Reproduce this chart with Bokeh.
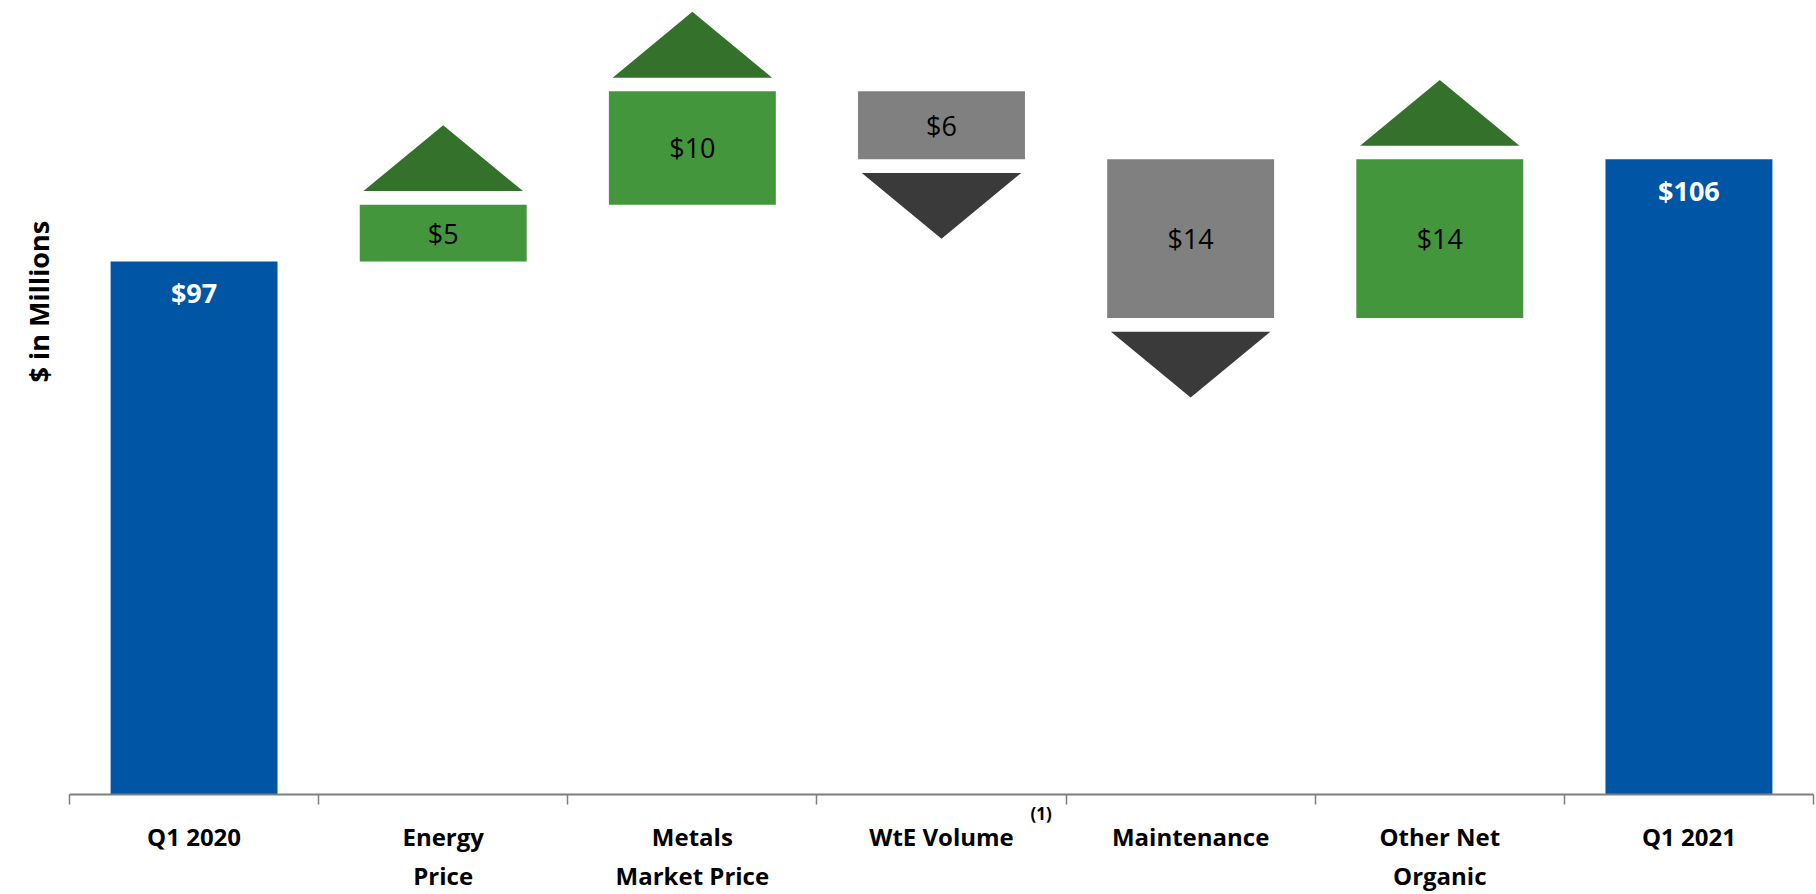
from bokeh.plotting import figure
from bokeh.models import Range1d, FixedTicker, LinearAxis, Title, ColumnDataSource
from bokeh.core.properties import value
from bokeh.embed import file_html
from bokeh.resources import INLINE

# ---- data ($ millions) ----
categories = ["Q1 2020", "Energy\nPrice", "Metals\nMarket Price", "WtE Volume",
              "Maintenance", "Other Net\nOrganic", "Q1 2021"]
start_total = 97
end_total = 106
changes = [5, 10, -6, -14, 14]
value_labels = ["$97", "$5", "$10", "$6", "$14", "$14", "$106"]
footnotes = {"WtE Volume": "(1)"}

# ---- styling ----
FONT = "Open Sans"
BLUE = "#0055A5"
UP_FILL = "#43963B"
UP_ARROW = "#34722C"
DOWN_FILL = "#808080"
DOWN_ARROW = "#3A3A3A"
AXIS_GREY = "#7F7F7F"
BAR_W = 0.67
ARROW_W = 0.64
ARROW_GAP = 1.2
ARROW_H = 5.8

n = len(categories)
centers = [i + 0.5 for i in range(n)]

# running totals for the floating bars
bottoms, tops, colors = [0.0], [start_total], [BLUE]
level = start_total
for c in changes:
    new = level + c
    bottoms.append(min(level, new))
    tops.append(max(level, new))
    colors.append(UP_FILL if c > 0 else DOWN_FILL)
    level = new
bottoms.append(0.0)
tops.append(end_total)
colors.append(BLUE)

p = figure(frame_width=1744, frame_height=794,
           x_range=Range1d(0, n), y_range=Range1d(50, 120),
           output_backend="svg", toolbar_location=None,
           x_axis_location=None, y_axis_location=None,
           min_border_left=69, min_border_right=3,
           min_border_top=0, min_border_bottom=90,
           background_fill_color="white", border_fill_color="white")
p.outline_line_color = None
p.xgrid.visible = False
p.ygrid.visible = False

src = ColumnDataSource(dict(x=centers, bottom=bottoms, top=tops, color=colors))
p.vbar(x="x", bottom="bottom", top="top", width=BAR_W, fill_color="color",
       line_color=None, source=src)

# direction arrows for the change bars
axs, ays, acol = [], [], []
level = start_total
for i, c in enumerate(changes, start=1):
    new = level + c
    x0, x1 = centers[i] - ARROW_W / 2, centers[i] + ARROW_W / 2
    if c > 0:
        base = new + ARROW_GAP
        tip = base + ARROW_H
        acol.append(UP_ARROW)
    else:
        base = new - ARROW_GAP
        tip = base - ARROW_H
        acol.append(DOWN_ARROW)
    axs.append([x0, x1, centers[i]])
    ays.append([base, base, tip])
    level = new
p.patches(axs, ays, fill_color=acol, line_color=None)

# value labels: totals near the top in white, changes centred in black
tot_idx = [0, n - 1]
p.text(x=[centers[i] for i in tot_idx], y=[tops[i] for i in tot_idx],
       text=[value_labels[i] for i in tot_idx], y_offset=31,
       text_align="center", text_baseline="middle", text_color="white",
       text_font=value(FONT), text_font_style="bold", text_font_size="27px")
chg_idx = list(range(1, n - 1))
p.text(x=[centers[i] for i in chg_idx],
       y=[(tops[i] + bottoms[i]) / 2 for i in chg_idx],
       text=[value_labels[i] for i in chg_idx],
       text_align="center", text_baseline="middle", text_color="black",
       text_font=value(FONT), text_font_size="27px")

# inner axis: baseline, boundary tick marks and footnote markers
note_pos = {centers[categories.index(k)] + 0.4: v for k, v in footnotes.items()}
note_axis = LinearAxis(
    ticker=FixedTicker(ticks=list(note_pos), minor_ticks=list(range(n + 1))),
    major_label_overrides=note_pos,
    axis_line_color=AXIS_GREY, axis_line_width=2,
    major_tick_in=0, major_tick_out=0,
    minor_tick_in=0, minor_tick_out=10,
    minor_tick_line_color=AXIS_GREY, minor_tick_line_width=1.5,
    major_label_standoff=-3,
    major_label_text_font=FONT, major_label_text_font_style="bold",
    major_label_text_font_size="17px", major_label_text_color="black",
)
p.add_layout(note_axis, "below")

# outer axis: category names centred under each bar
cat_axis = LinearAxis(
    ticker=FixedTicker(ticks=centers, minor_ticks=[]),
    major_label_overrides={c: lab for c, lab in zip(centers, categories)},
    axis_line_color=None,
    major_tick_in=0, major_tick_out=0,
    minor_tick_in=0, minor_tick_out=0,
    major_label_standoff=-8,
    major_label_text_font=FONT, major_label_text_font_style="bold",
    major_label_text_font_size="24px", major_label_text_color="black",
    major_label_text_line_height=1.2,
)
p.add_layout(cat_axis, "below")

p.add_layout(Title(text="$ in Millions", align="left", offset=412,
                   standoff=26, text_font=FONT, text_font_style="bold",
                   text_font_size="27px", text_color="black"), "left")

open("out.html", "w").write(file_html(p, INLINE))
